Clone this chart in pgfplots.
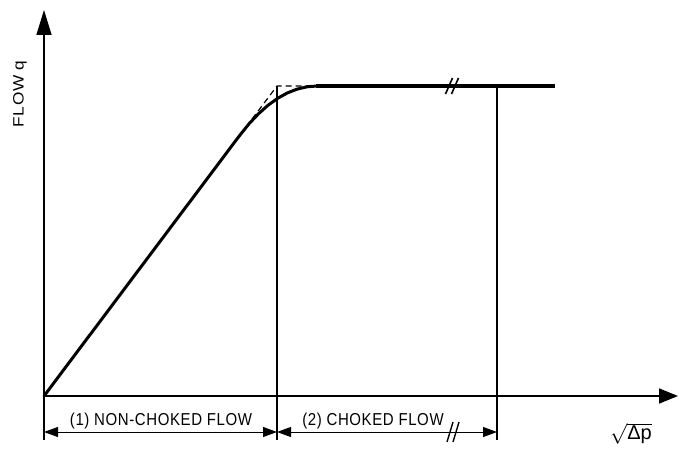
\documentclass[border=0pt]{standalone}
\usepackage{pgfplots}
\pgfplotsset{compat=1.18}
\usetikzlibrary{arrows.meta}
\usepackage{fontspec}
\setmainfont{Liberation Sans}
\newfontfamily\cad[LetterSpace=4]{Liberation Sans}
\begin{document}
\begin{tikzpicture}
\begin{axis}[
 hide axis, scale only axis, width=679bp, height=448bp,
 xmin=-44, xmax=635, ymin=-52, ymax=396, clip=false,
]
\addplot[draw=none, forget plot] coordinates {(-44,-52) (635,396)};
% axes
\addplot[line width=1.6bp, -{Triangle[length=19bp,width=15bp]}] coordinates {(0,0) (634,0)};
\addplot[line width=1.6bp, -{Triangle[length=25bp,width=15bp]}] coordinates {(0,-44) (0,386)};
% verticals
\addplot[line width=1.2bp] coordinates {(233,310) (233,-44)};
\addplot[line width=1.2bp] coordinates {(453,310) (453,-44)};
% dashed ideal
\addplot[line width=1.2bp, dash pattern=on 6bp off 4bp] coordinates {(196,261) (233,310) (273,310)};
% flow curve
\addplot[line width=3bp, line cap=round, line join=round] coordinates {
 (0,0) (196,261) (205.3,272.5) (214.7,282.4) (224.2,290.9) (233.75,297.75)
 (243.4,303.1) (253.2,306.9) (263,309.2) (273,310)};
\addplot[line width=4bp] coordinates {(272,310) (511,310)};
% break marks on flow line
\addplot[line width=1.6bp] coordinates {(401.5,302) (408.5,318)};
\addplot[line width=1.6bp] coordinates {(407.5,302) (414.5,318)};
% dimension lines
\addplot[line width=0.9bp, {Triangle[length=14bp,width=10bp]}-{Triangle[length=14bp,width=10bp]}] coordinates {(0,-36) (233,-36)};
\addplot[line width=0.9bp, {Triangle[length=14bp,width=10bp]}-{Triangle[length=14bp,width=10bp]}] coordinates {(233,-36) (453,-36)};
\addplot[line width=1.4bp] coordinates {(403,-46) (409,-26)};
\addplot[line width=1.4bp] coordinates {(409,-46) (415,-26)};
% texts
\node[font=\cad\fontsize{15bp}{17bp}\selectfont, yscale=1.15, transform shape] at (axis cs:117,-25) {(1) NON-CHOKED FLOW};
\node[font=\cad\fontsize{15bp}{17bp}\selectfont, yscale=1.15, transform shape] at (axis cs:329,-25) {(2) CHOKED FLOW};
\node[font=\fontsize{20bp}{22bp}\selectfont] at (axis cs:587,-38) {$\sqrt{\hbox{Δp}}$};
\node[font=\cad\fontsize{15bp}{17bp}\selectfont, rotate=90, xscale=1.15, transform shape] at (axis cs:-24,302) {FLOW q};
\end{axis}
\end{tikzpicture}
\end{document}
